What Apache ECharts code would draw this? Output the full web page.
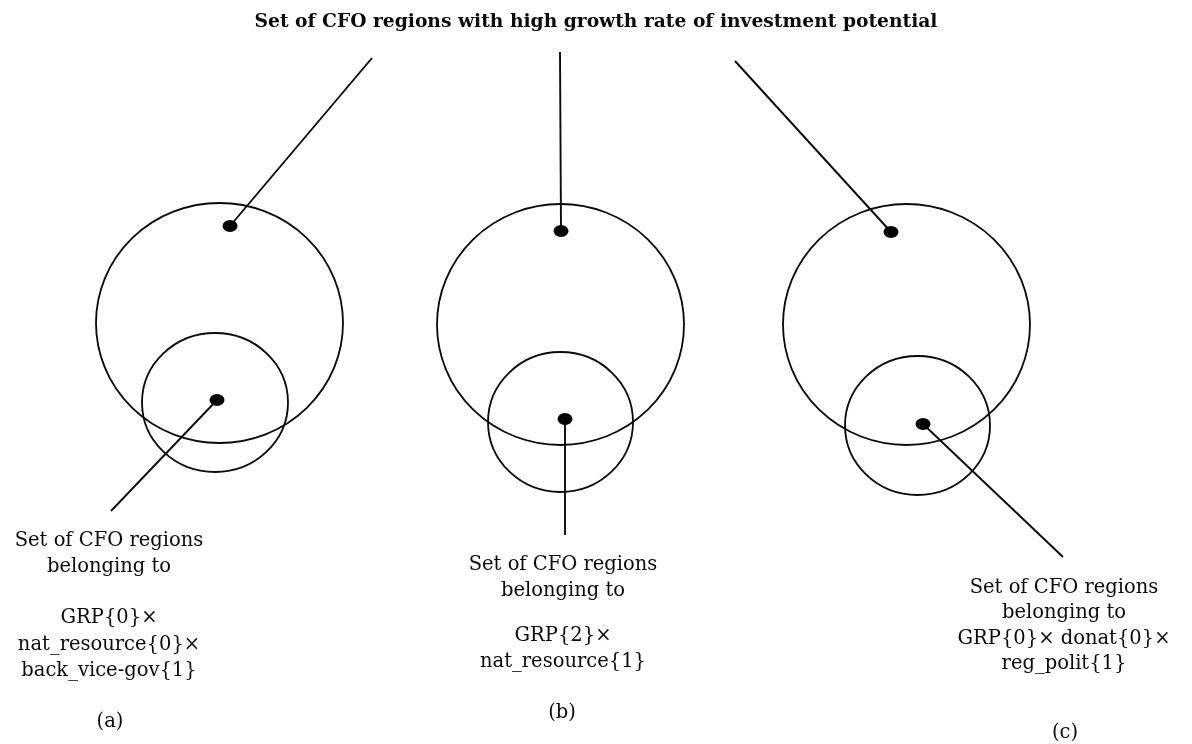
<!DOCTYPE html>
<html>
<head>
<meta charset="utf-8">
<script src="https://cdn.jsdelivr.net/npm/echarts@6/dist/echarts.min.js"></script>
<style>
  html, body { margin: 0; padding: 0; background: #fff; }
  #chart { width: 1192px; height: 744px; }
</style>
</head>
<body>
<div id="chart"></div>
<script>
// diagram space == pixel space (x 0..1192, y 0..744 top-down)
// circles: [cx, cy, width, height]
const bigCircles = [[219.5, 323, 247, 240], [560.5, 324.5, 247, 241], [906.5, 324.5, 247, 241]];
const smallCircles = [[215, 402.5, 146, 139], [560.5, 422, 145, 140], [917.5, 425.5, 145, 139]];
// dots marking set members
const dots = [[230, 226], [217, 400], [561, 231], [565, 419], [891, 232], [923, 424]];
// pointer lines: [x1, y1, x2, y2]
const pointers = [
  [372, 58, 230, 226],
  [217, 400, 111, 511],
  [560, 52, 561, 231],
  [565, 419, 565, 535],
  [735, 61, 891, 232],
  [923, 424, 1063, 557]
];
// caption lines: [x, y, text]
const captions = [
  [109, 541, 'Set of CFO regions'],
  [109, 567, 'belonging to'],
  [109, 618, 'GRP{0}×'],
  [109, 645, 'nat_resource{0}×'],
  [109, 671, 'back_vice-gov{1}'],
  [110, 722, '(a)'],
  [563, 565, 'Set of CFO regions'],
  [563, 591, 'belonging to'],
  [563, 636, 'GRP{2}×'],
  [563, 662, 'nat_resource{1}'],
  [562, 713, '(b)'],
  [1064, 588, 'Set of CFO regions'],
  [1064, 613, 'belonging to'],
  [1064, 639, 'GRP{0}× donat{0}×'],
  [1064, 664, 'reg_polit{1}'],
  [1065, 733, '(c)']
];
const titleText = 'Set of CFO regions with high growth rate of investment potential';

const ink = '#0a0a0a';

const option = {
  backgroundColor: '#fff',
  animation: false,
  title: {
    text: titleText,
    left: 'center',
    top: 8,
    textStyle: { fontFamily: 'DejaVu Serif', fontSize: 18.7, fontWeight: 'bold', color: ink }
  },
  grid: { left: 0, right: 0, top: 0, bottom: 0 },
  xAxis: { type: 'value', min: 0, max: 1192, show: false },
  yAxis: { type: 'value', min: 0, max: 744, inverse: true, show: false },
  series: [
    {
      type: 'scatter',
      name: 'big',
      symbol: 'circle',
      data: bigCircles,
      symbolSize: function (v) { return [v[2], v[3]]; },
      itemStyle: { color: 'rgba(0,0,0,0)', borderColor: ink, borderWidth: 1.8, opacity: 1 },
      silent: true
    },
    {
      type: 'scatter',
      name: 'small',
      symbol: 'circle',
      data: smallCircles,
      symbolSize: function (v) { return [v[2], v[3]]; },
      itemStyle: { color: 'rgba(0,0,0,0)', borderColor: ink, borderWidth: 1.8, opacity: 1 },
      silent: true
    },
    {
      type: 'lines',
      coordinateSystem: 'cartesian2d',
      data: pointers.map(function (p) { return { coords: [[p[0], p[1]], [p[2], p[3]]] }; }),
      lineStyle: { color: ink, width: 1.9, opacity: 1 },
      silent: true
    },
    {
      type: 'scatter',
      name: 'dots',
      symbol: 'circle',
      data: dots,
      symbolSize: [15, 12],
      itemStyle: { color: '#000', opacity: 1 },
      z: 5,
      silent: true
    },
    {
      type: 'scatter',
      name: 'captions',
      data: captions,
      symbolSize: 0,
      itemStyle: { opacity: 1 },
      label: {
        show: true,
        position: 'inside',
        formatter: function (p) { return p.value[2]; },
        fontFamily: 'DejaVu Serif',
        fontSize: 19.5,
        color: ink,
        align: 'center',
        verticalAlign: 'middle'
      },
      silent: true
    }
  ]
};

echarts.init(document.getElementById('chart')).setOption(option);
</script>
</body>
</html>
